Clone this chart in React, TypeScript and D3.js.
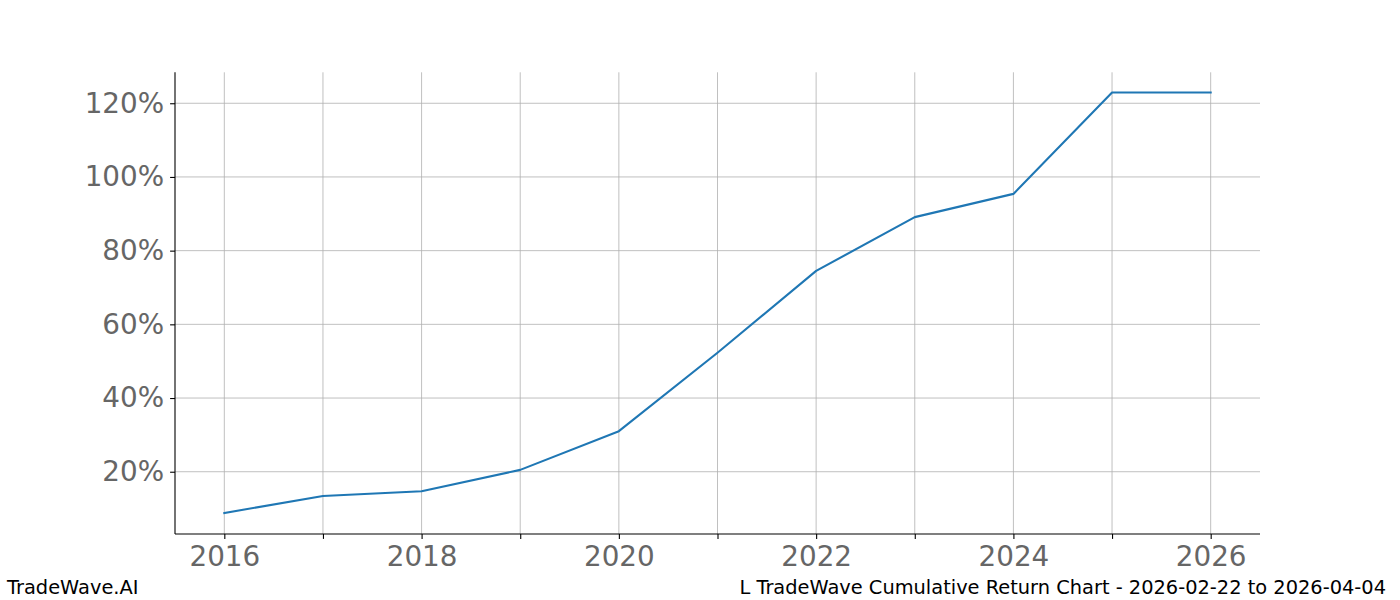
import React, { useRef, useEffect } from 'react';
import {
  select,
  line,
  scaleLinear,
  axisBottom,
  axisLeft,
  curveLinear,
} from 'd3';

const years = [2016, 2017, 2018, 2019, 2020, 2021, 2022, 2023, 2024, 2025, 2026];
const cumulativeReturn = [8.8, 13.4, 14.7, 20.5, 31.0, 52.3, 74.5, 89.1, 95.4, 122.9, 122.9];
const xTickYears = [2016, 2018, 2020, 2022, 2024, 2026];
const yTickValues = [20, 40, 60, 80, 100, 120];
const footerLeft = 'TradeWave.AI';
const footerRight = 'L TradeWave Cumulative Return Chart - 2026-02-22 to 2026-04-04';

const dimensions = {
  width: 1400,
  height: 600,
  left: 175,
  right: 1260,
  top: 72.3,
  bottom: 534,
};

const FONT = '"DejaVu Sans", sans-serif';

const App = () => {
  const svgRef = useRef(null);

  useEffect(() => {
    const svg = select(svgRef.current);
    svg.selectAll('*').remove();

    const xScale = scaleLinear()
      .domain([2015.5, 2026.5])
      .range([dimensions.left, dimensions.right]);
    const yScale = scaleLinear()
      .domain([3.1, 128.4])
      .range([dimensions.bottom, dimensions.top]);

    // grid
    const grid = svg.append('g');
    grid
      .selectAll('line.vgrid')
      .data(years)
      .join('line')
      .attr('class', 'vgrid')
      .attr('x1', (d) => xScale(d))
      .attr('x2', (d) => xScale(d))
      .attr('y1', dimensions.top)
      .attr('y2', dimensions.bottom)
      .attr('stroke', '#b0b0b0')
      .attr('stroke-width', 0.8);
    grid
      .selectAll('line.hgrid')
      .data(yTickValues)
      .join('line')
      .attr('class', 'hgrid')
      .attr('x1', dimensions.left)
      .attr('x2', dimensions.right)
      .attr('y1', (d) => yScale(d))
      .attr('y2', (d) => yScale(d))
      .attr('stroke', '#b0b0b0')
      .attr('stroke-width', 0.8);

    // line
    const myLine = line<number>()
      .x((_, i) => xScale(years[i]))
      .y((d) => yScale(d))
      .curve(curveLinear);

    svg
      .append('path')
      .datum(cumulativeReturn)
      .attr('d', myLine)
      .attr('fill', 'none')
      .attr('stroke', '#1f77b4')
      .attr('stroke-width', 2.1)
      .attr('stroke-linejoin', 'round')
      .attr('stroke-linecap', 'square');

    // axes
    const xAxis = axisBottom(xScale)
      .tickValues(years)
      .tickSize(4.9)
      .tickPadding(5)
      .tickFormat((d) => (xTickYears.includes(+d) ? String(d) : ''));
    const xAxisGroup = svg
      .append('g')
      .attr('transform', `translate(0,${dimensions.bottom})`)
      .call(xAxis);
    xAxisGroup.select('.domain').remove();
    xAxisGroup.append('line')
      .attr('x1', dimensions.left)
      .attr('x2', dimensions.right)
      .attr('stroke', '#000')
      .attr('stroke-width', 1.1);

    const yAxis = axisLeft(yScale)
      .tickValues(yTickValues)
      .tickSize(4.9)
      .tickPadding(6)
      .tickFormat((d) => `${d}%`);
    const yAxisGroup = svg
      .append('g')
      .attr('transform', `translate(${dimensions.left},0)`)
      .call(yAxis);
    yAxisGroup.select('.domain').remove();
    yAxisGroup.append('line')
      .attr('y1', dimensions.top)
      .attr('y2', dimensions.bottom)
      .attr('stroke', '#000')
      .attr('stroke-width', 1.1);

    [xAxisGroup, yAxisGroup].forEach((g) => {
      g.selectAll('.tick line').attr('stroke', '#000').attr('stroke-width', 1.1);
      g.selectAll('.tick text')
        .attr('fill', '#666666')
        .style('font-family', FONT)
        .style('font-size', '27.8px');
    });
    xAxisGroup.selectAll('.tick text').attr('dy', '0.78em');

    // footer
    svg
      .append('text')
      .attr('x', 7)
      .attr('y', 594)
      .style('font-family', FONT)
      .style('font-size', '19.4px')
      .attr('fill', '#000')
      .text(footerLeft);
    svg
      .append('text')
      .attr('x', 1386)
      .attr('y', 594)
      .attr('text-anchor', 'end')
      .style('font-family', FONT)
      .style('font-size', '19.4px')
      .attr('fill', '#000')
      .text(footerRight);
  }, []);

  return (
    <svg
      ref={svgRef}
      width={dimensions.width}
      height={dimensions.height}
      style={{ position: 'absolute', left: 0, top: 0, background: '#fff' }}
    ></svg>
  );
};

export default App;
